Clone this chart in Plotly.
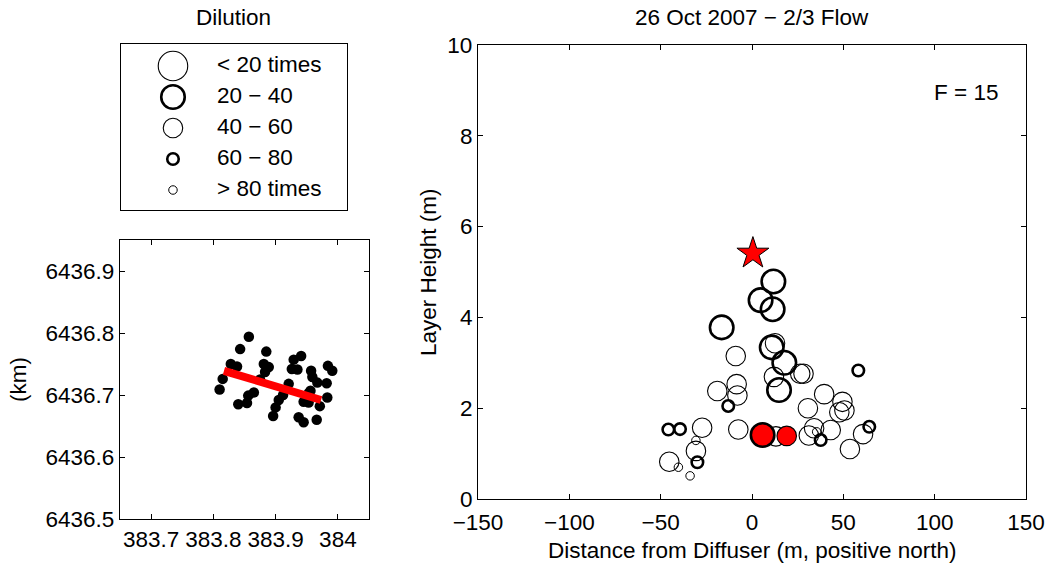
import plotly.graph_objects as go

# ---------------- data ----------------
# Dilution categories
cat_labels = ["< 20 times", "20 \u2212 40", "40 \u2212 60", "60 \u2212 80", "> 80 times"]
cat_index = [0, 1, 2, 3, 4]

# Main panel: open circles (distance m, layer height m, dilution category)
dist = [11.7, 4.7, 11.3, -16.6, -8.9, 10.8, 12.6, 17.7, 26.4, 28.2,
        12.0, 14.8, -19.0, -8.4, -8.0, -13.0, -27.3, -45.8, -39.4, -7.5,
        13.1, -30.7, -30.7, -29.9, -45.3, -40.3, -33.9, 58.2, 39.5, 30.6,
        49.5, 47.8, 50.6, 34.0, 31.1, 35.4, 43.1, 37.6, 53.6, 60.8, 64.2]
height = [4.79, 4.38, 4.18, 3.78, 3.15, 3.34, 3.43, 3.00, 2.76, 2.76,
          2.69, 2.40, 2.38, 2.53, 2.28, 2.05, 1.57, 1.53, 1.54, 1.53,
          1.38, 1.29, 1.06, 0.81, 0.82, 0.70, 0.51, 2.83, 2.31, 2.00,
          2.14, 1.91, 1.95, 1.56, 1.40, 1.48, 1.52, 1.30, 1.10, 1.43, 1.59]
dil_cat = [1, 1, 1, 1, 2, 1, 2, 1, 2, 2,
           2, 1, 2, 2, 2, 3, 2, 3, 3, 2,
           2, 4, 2, 3, 2, 4, 4, 3, 2, 2,
           2, 2, 2, 2, 2, 4, 2, 3, 2, 2, 3]

# Red (filled) samples
red_dist = [5.8, 19.0]
red_height = [1.41, 1.39]
red_cat = [1, 2]

# Star
star_dist = [0.5]
star_height = [5.41]

# Left panel: sample positions (km)
east = [383.857, 383.843, 383.828, 383.838, 383.815, 383.810, 383.840, 383.854,
        383.856, 383.865, 383.885, 383.881, 383.889, 383.883, 383.875, 383.896,
        383.900, 383.905, 383.912, 383.921, 383.929, 383.941, 383.926, 383.935,
        383.937, 383.945, 383.945, 383.953, 383.956, 383.957, 383.959, 383.967,
        383.982, 383.971, 383.966, 383.983, 383.984, 383.991, 383.953]
north = [6436.794, 6436.774, 6436.750, 6436.746, 6436.726, 6436.709, 6436.685, 6436.687,
         6436.699, 6436.704, 6436.770, 6436.750, 6436.745, 6436.737, 6436.725, 6436.666,
         6436.680, 6436.692, 6436.700, 6436.718, 6436.757, 6436.763, 6436.742, 6436.741,
         6436.664, 6436.656, 6436.689, 6436.688, 6436.707, 6436.739, 6436.729, 6436.720,
         6436.719, 6436.682, 6436.660, 6436.696, 6436.747, 6436.739, 6436.703]
# Diffuser line
diff_east = [383.817, 383.973]
diff_north = [6436.739, 6436.692]

main_xticks = [-150, -100, -50, 0, 50, 100, 150]
main_yticks = [0, 2, 4, 6, 8, 10]
map_xticks = [383.7, 383.8, 383.9, 384.0]
map_xtext = ["383.7", "383.8", "383.9", "384"]
map_yticks = [6436.5, 6436.6, 6436.7, 6436.8, 6436.9]
map_ytext = ["6436.5", "6436.6", "6436.7", "6436.8", "6436.9"]

# ---------------- styling ----------------
W, H = 1052, 564
FONT = "Liberation Sans, Arial, Helvetica, sans-serif"
FS = 22.5
cat_size = [29.5, 23.5, 19.5, 11.5, 8.5]
cat_lw = [1.1, 2.6, 1.1, 2.6, 1.0]


def px(x0, x1):
    return [x0 / W, x1 / W]


def py(top, bottom):
    return [1 - bottom / H, 1 - top / H]


fig = go.Figure()

# main panel circles
fig.add_trace(go.Scatter(
    x=dist, y=height, mode="markers", xaxis="x", yaxis="y",
    marker=dict(symbol="circle", color="rgba(0,0,0,0)", opacity=1,
                size=[cat_size[c] for c in dil_cat],
                line=dict(color="black", width=[cat_lw[c] for c in dil_cat])),
    showlegend=False, hoverinfo="skip", cliponaxis=False))
fig.add_trace(go.Scatter(
    x=red_dist, y=red_height, mode="markers", xaxis="x", yaxis="y",
    marker=dict(symbol="circle", color="#ff0000", opacity=1,
                size=[cat_size[c] for c in red_cat],
                line=dict(color="black", width=[cat_lw[c] for c in red_cat])),
    showlegend=False, hoverinfo="skip"))
fig.add_trace(go.Scatter(
    x=star_dist, y=star_height, mode="markers", xaxis="x", yaxis="y",
    marker=dict(symbol="star", color="#ff0000", size=24, opacity=1,
                line=dict(color="black", width=1)),
    showlegend=False, hoverinfo="skip"))

# map panel
fig.add_trace(go.Scatter(
    x=east, y=north, mode="markers", xaxis="x2", yaxis="y2",
    marker=dict(symbol="circle", color="black", size=10.5, opacity=1),
    showlegend=False, hoverinfo="skip"))
fig.add_trace(go.Scatter(
    x=diff_east, y=diff_north, mode="lines", xaxis="x2", yaxis="y2",
    line=dict(color="#ff0000", width=8),
    showlegend=False, hoverinfo="skip"))

# custom size legend
fig.add_trace(go.Scatter(
    x=[0.23] * len(cat_index), y=cat_index, mode="markers", xaxis="x3", yaxis="y3",
    marker=dict(symbol="circle", color="rgba(0,0,0,0)", size=cat_size, opacity=1,
                line=dict(color="black", width=cat_lw)),
    showlegend=False, hoverinfo="skip"))
fig.add_trace(go.Scatter(
    x=[0.425] * len(cat_index), y=cat_index, mode="text", xaxis="x3", yaxis="y3",
    text=cat_labels, textposition="middle right",
    textfont=dict(family=FONT, size=FS, color="black"),
    showlegend=False, hoverinfo="skip", cliponaxis=False))

axis_common = dict(showline=True, linecolor="black", linewidth=1.2, mirror="ticks",
                   ticks="inside", ticklen=5, tickwidth=1, tickcolor="black",
                   showgrid=False, zeroline=False, automargin=False,
                   tickfont=dict(family=FONT, size=FS, color="black"))

lg_top, lg_bot = 44, 210
lg_c0, lg_step = 66, 31

fig.update_layout(
    width=W, height=H,
    margin=dict(l=0, r=0, t=0, b=0, pad=0, autoexpand=False),
    paper_bgcolor="white", plot_bgcolor="white",
    xaxis=dict(domain=px(478, 1026), range=[-150, 150], tickvals=main_xticks,
               anchor="y", ticklabelstandoff=3, **axis_common),
    yaxis=dict(domain=py(45, 499), range=[0, 10], tickvals=main_yticks,
               anchor="x", **axis_common),
    xaxis2=dict(domain=px(120, 369), range=[383.65, 384.05], tickvals=map_xticks,
                ticktext=map_xtext, anchor="y2", **axis_common),
    yaxis2=dict(domain=py(240, 519), range=[6436.5, 6436.95], tickvals=map_yticks,
                ticktext=map_ytext, anchor="x2", **axis_common),
    xaxis3=dict(domain=px(121, 347), range=[0, 1], anchor="y3", showline=True,
                linecolor="black", linewidth=1.2, mirror=True, showticklabels=False,
                ticks="", showgrid=False, zeroline=False, fixedrange=True),
    yaxis3=dict(domain=py(lg_top, lg_bot),
                range=[(lg_bot - lg_c0) / lg_step, -(lg_c0 - lg_top) / lg_step],
                anchor="x3", showline=True, linecolor="black", linewidth=1.2,
                mirror=True, showticklabels=False, ticks="", showgrid=False,
                zeroline=False, fixedrange=True),
    font=dict(family=FONT, size=FS, color="black"),
    annotations=[
        dict(text="Dilution", x=234 / W, y=1 - 18 / H, xref="paper", yref="paper",
             showarrow=False, xanchor="center", yanchor="middle"),
        dict(text="26 Oct 2007 \u2212 2/3 Flow", x=752 / W, y=1 - 18 / H, xref="paper",
             yref="paper", showarrow=False, xanchor="center", yanchor="middle"),
        dict(text="F = 15", x=1000 / W, y=1 - 92 / H, xref="paper", yref="paper",
             showarrow=False, xanchor="right", yanchor="middle"),
        dict(text="Layer Height (m)", x=428 / W, y=1 - 272 / H, xref="paper",
             yref="paper", showarrow=False, textangle=-90, xanchor="center",
             yanchor="middle"),
        dict(text="(km)", x=18 / W, y=1 - 380 / H, xref="paper", yref="paper",
             showarrow=False, textangle=-90, xanchor="center", yanchor="middle"),
        dict(text="Distance from Diffuser (m, positive north)", x=752 / W,
             y=1 - 550 / H, xref="paper", yref="paper", showarrow=False,
             xanchor="center", yanchor="middle"),
    ],
)

fig.write_html("out.html")
